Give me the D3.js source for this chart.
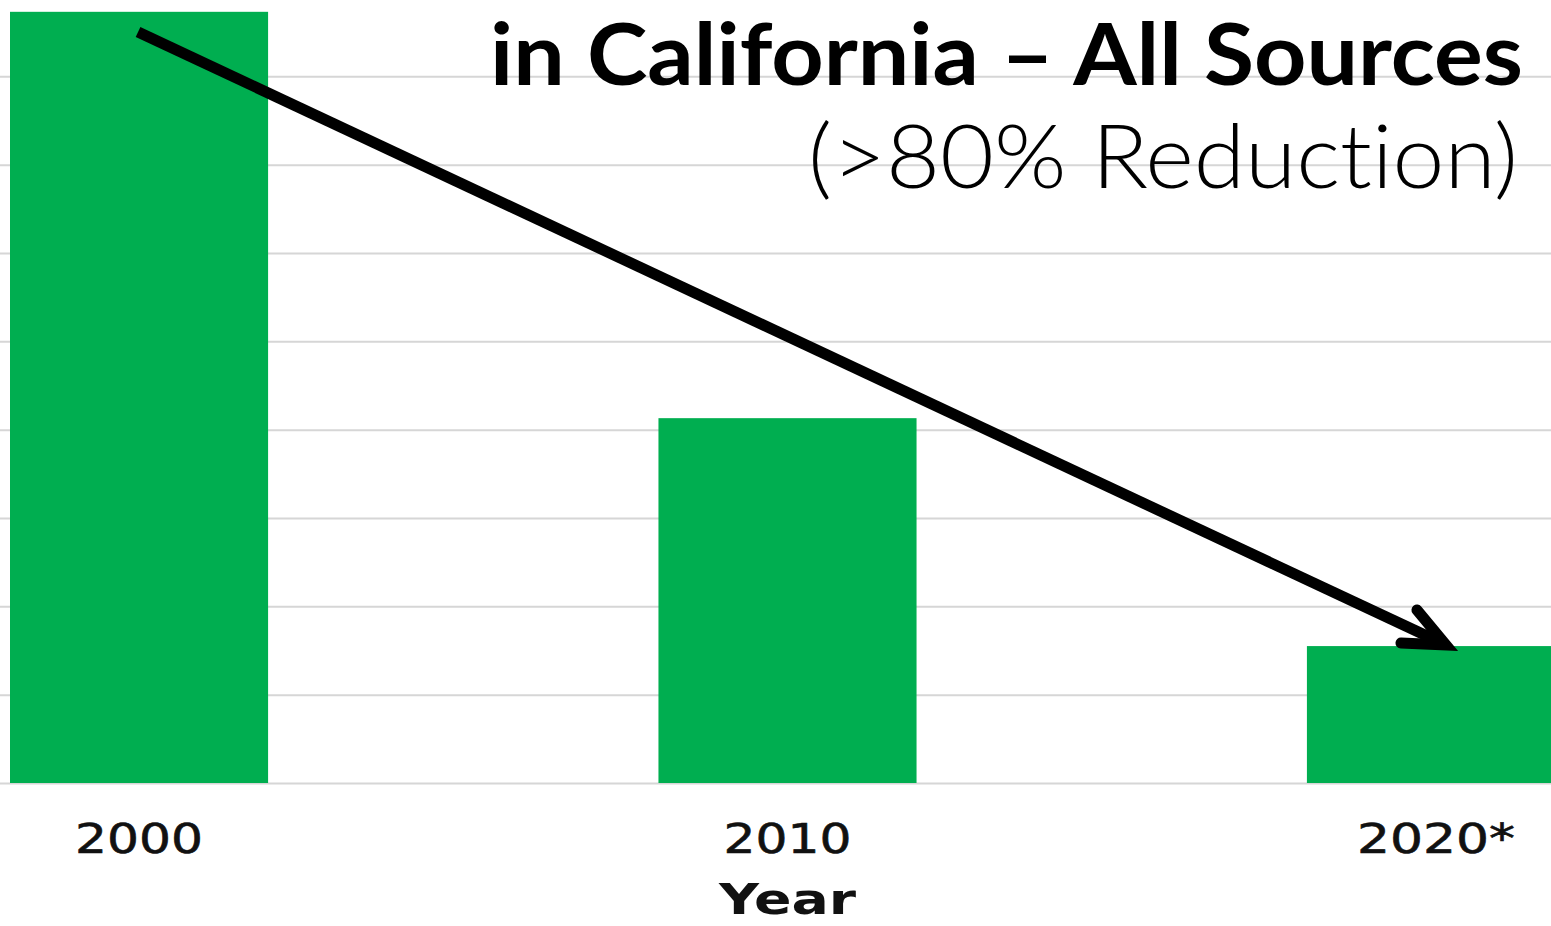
<!DOCTYPE html>
<html>
<head>
<meta charset="utf-8">
<script src="https://cdn.jsdelivr.net/npm/d3@7"></script>
<style>
  html, body { margin: 0; padding: 0; background: #fff; overflow: hidden; }
  text { font-variant-ligatures: none; }
</style>
</head>
<body>
<div id="chart"></div>
<script>
const width = 1551;
const height = 926;

// data (units = one gridline step of 10)
const years = ['2000', '2010', '2020*'];
const emissions = [87.3, 41.3, 15.5];
const gridTicks = [0, 10, 20, 30, 40, 50, 60, 70, 80];

const titleLine = 'in California \u2013 All Sources';
const subtitleLine = '(>80% Reduction)';
const xTitle = 'Year';

const barColor = '#00ae50';
const gridColor = '#d6d6d6';

const data = years.map((y, i) => ({ year: y, value: emissions[i] }));

const svg = d3.select('#chart')
  .append('svg')
  .attr('width', width)
  .attr('height', height);

const xScale = d3.scaleBand()
  .domain(years)
  .range([10, 1565])
  .paddingInner(0.602)
  .paddingOuter(0);

// 0 sits on the baseline, 80 on the top gridline
const yScale = d3.scaleLinear()
  .domain([0, 80])
  .range([783, 76.3]);

// gridlines across the full width
svg.append('g')
  .attr('class', 'grid')
  .attr('transform', `translate(${width}, 0)`)
  .call(d3.axisLeft(yScale).tickValues(gridTicks).tickSize(width).tickFormat(''))
  .call(g => g.select('.domain').remove())
  .call(g => g.selectAll('.tick line').attr('stroke', gridColor).attr('stroke-width', 2));

// bars
svg.append('g')
  .selectAll('rect')
  .data(data)
  .enter()
  .append('rect')
  .attr('x', d => xScale(d.year))
  .attr('y', d => yScale(d.value))
  .attr('width', xScale.bandwidth())
  .attr('height', d => yScale(0) - yScale(d.value))
  .attr('fill', barColor);

// x axis labels
svg.append('g')
  .attr('transform', `translate(0, ${yScale(0)})`)
  .call(d3.axisBottom(xScale).tickSize(0).tickPadding(0))
  .call(g => g.select('.domain').remove())
  .call(g => g.selectAll('.tick text')
    .attr('y', 70)
    .attr('dy', 0)
    .attr('font-family', 'DejaVu Sans, Verdana, sans-serif')
    .attr('font-size', 41)
    .attr('fill', '#111')
    .attr('stroke', '#111')
    .attr('stroke-width', 0.6)
    .attr('textLength', d => d === '2020*' ? 158 : 128)
    .attr('lengthAdjust', 'spacingAndGlyphs'));

// axis title sits close to the bottom edge, as in the original
svg.append('text')
  .attr('x', xScale('2010') + xScale.bandwidth() / 2)
  .attr('y', 914)
  .attr('text-anchor', 'middle')
  .attr('font-family', 'DejaVu Sans, Verdana, sans-serif')
  .attr('font-weight', 'bold')
  .attr('font-size', 42)
  .attr('fill', '#111')
  .attr('textLength', 137)
  .attr('lengthAdjust', 'spacingAndGlyphs')
  .text(xTitle);

// trend arrow from the 2000 bar down to the 2020 bar
const x0 = xScale('2000') + xScale.bandwidth() / 2 - 1;
const y0 = 32;
const x1 = xScale('2020*') + xScale.bandwidth() / 2 + 10;
const y1 = yScale(emissions[2]) - 1;

svg.append('line')
  .attr('x1', x0).attr('y1', y0)
  .attr('x2', x1 - 4).attr('y2', y1 - 2)
  .attr('stroke', '#000')
  .attr('stroke-width', 11);

svg.append('path')
  .attr('d', `M${x1 - 29},${y1 - 35} L${x1},${y1} L${x1 - 45},${y1 - 2}`)
  .attr('fill', 'none')
  .attr('stroke', '#000')
  .attr('stroke-width', 11)
  .attr('stroke-linecap', 'round')
  .attr('stroke-linejoin', 'miter');

// title text, right aligned
svg.append('text')
  .attr('x', 1523)
  .attr('y', 85)
  .attr('text-anchor', 'end')
  .attr('font-family', 'Lato, "Open Sans", sans-serif')
  .attr('font-weight', 'bold')
  .attr('font-size', 86)
  .attr('fill', '#000')
  .attr('textLength', 1033)
  .attr('lengthAdjust', 'spacingAndGlyphs')
  .text(titleLine);

svg.append('text')
  .attr('x', 1518)
  .attr('y', 188)
  .attr('text-anchor', 'end')
  .attr('font-family', 'Lato, "Open Sans", sans-serif')
  .attr('font-weight', 300)
  .attr('font-size', 88)
  .attr('fill', '#000')
  .attr('textLength', 710)
  .attr('lengthAdjust', 'spacingAndGlyphs')
  .text(subtitleLine);
</script>
</body>
</html>
